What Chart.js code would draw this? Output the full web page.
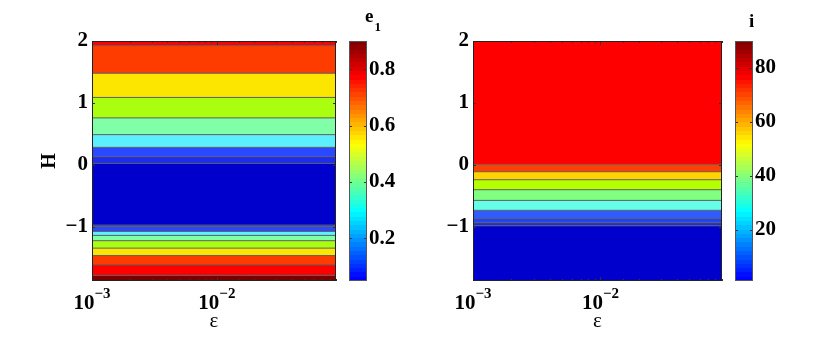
<!DOCTYPE html>
<html>
<head>
<meta charset="utf-8">
<script src="https://cdn.jsdelivr.net/npm/chart.js@4.4.0/dist/chart.umd.min.js"></script>
<style>
  body { margin: 0; background: #fff; }
  #wrap { position: relative; width: 830px; height: 346px; }
  canvas { position: absolute; top: 0; }
</style>
</head>
<body>
<div id="wrap">
  <canvas id="leftPlot" width="340" height="346" style="left:0"></canvas>
  <canvas id="leftBar" width="75" height="346" style="left:345px"></canvas>
  <canvas id="rightPlot" width="345" height="346" style="left:381px"></canvas>
  <canvas id="rightBar" width="75" height="346" style="left:731px"></canvas>
</div>
<script>
// band edges in H, top to bottom (values only depend on H)
const leftEdges = [2, 1.925, 1.48, 1.09, 0.76, 0.49, 0.285, 0.135, 0.027, -0.968, -0.99, -1.07, -1.135, -1.22, -1.34, -1.46, -1.61, -1.78, -1.87];
const leftLevels = [0.85, 0.75, 0.65, 0.55, 0.45, 0.35, 0.25, 0.15, 0.05, 0.15, 0.25, 0.35, 0.45, 0.55, 0.65, 0.75, 0.85, 0.9];
const rightEdges = [2, 0.011, -0.108, -0.237, -0.398, -0.57, -0.73, -0.86, -0.93, -0.98, -1.87];
const rightLevels = [85, 75, 65, 55, 45, 35, 25, 20, 15, 5];

const epsRange = [0.001, 0.09];
const hRange = [-1.87, 2];
const hTicks = [-1, 0, 1, 2];
const e1Range = [0.048, 0.9];
const e1Ticks = [0.2, 0.4, 0.6, 0.8];
const incRange = [1, 90];
const incTicks = [20, 40, 60, 80];

// colours seen in the picture, one per band
const leftColors = ['#ff0000', '#ff3c00', '#fce600', '#aaff10', '#80ffa8', '#5cf0ff', '#2a48ff', '#1c2cf0', '#0000cc',
  '#1c2cf0', '#2a48ff', '#5cf0ff', '#80ffa8', '#aaff10', '#fce600', '#ff3c00', '#ff0000', '#7a0000'];
const rightColors = ['#ff0000', '#ff4000', '#ffd200', '#b4ff00', '#80ff80', '#64ffe6', '#2e5cff', '#2244f0', '#1a2ee0', '#0000cc'];

const serif = 'Liberation Serif';
const tickFont = { family: serif, size: 21, weight: 'bold' };

function decade(v) {
  const e = Math.log10(v);
  return Math.abs(e - Math.round(e)) < 1e-6 ? Math.round(e) : null;
}

function bands(edges, levels, colors) {
  return levels.map((lv, i) => ({
    label: String(lv),
    data: [{ x: epsRange[0], y: edges[i] }, { x: epsRange[1], y: edges[i] }],
    fill: { value: edges[i + 1] },
    backgroundColor: colors[i],
    borderColor: '#5e5e5e',
    borderWidth: 1,
    pointRadius: 0
  }));
}

// box round the axes and small inward ticks, like matlab
const frame = {
  id: 'frame',
  afterDraw(chart) {
    const { ctx, chartArea: a, scales } = chart;
    ctx.save();
    ctx.strokeStyle = '#333';
    ctx.lineWidth = 1;
    ctx.beginPath();
    if (scales.x && scales.x.options.display) {
      scales.x.ticks.forEach(t => {
        const px = Math.round(scales.x.getPixelForValue(t.value)) + 0.5;
        const len = decade(t.value) !== null ? 4 : 2;
        ctx.moveTo(px, a.bottom); ctx.lineTo(px, a.bottom - len);
        ctx.moveTo(px, a.top); ctx.lineTo(px, a.top + len);
      });
    }
    scales.y.ticks.forEach(t => {
      const py = Math.round(scales.y.getPixelForValue(t.value)) + 0.5;
      ctx.moveTo(a.left, py); ctx.lineTo(a.left + 3, py);
      ctx.moveTo(a.right, py); ctx.lineTo(a.right - 3, py);
    });
    ctx.stroke();
    ctx.strokeStyle = chart.config.options.frameColor || '#222';
    ctx.strokeRect(Math.round(a.left) + 0.5, Math.round(a.top) + 0.5, Math.round(a.right - a.left) - 1, Math.round(a.bottom - a.top) - 1);
    ctx.restore();
  }
};

// 10^n labels with a raised exponent, placed at the log axis ticks
const powLabels = {
  id: 'powLabels',
  afterDraw(chart) {
    const { ctx, chartArea: a, scales: { x } } = chart;
    ctx.save();
    ctx.fillStyle = '#000';
    ctx.textBaseline = 'alphabetic';
    x.ticks.forEach(t => {
      const e = decade(t.value);
      if (e === null) return;
      const base = '10', exp = (e < 0 ? '\u2212' : '') + Math.abs(e);
      ctx.font = 'bold 21px "' + serif + '"';
      const wb = ctx.measureText(base).width;
      ctx.font = 'bold 15px "' + serif + '"';
      const we = ctx.measureText(exp).width;
      const left = x.getPixelForValue(t.value) - (wb + we) / 2;
      ctx.font = 'bold 21px "' + serif + '"';
      ctx.fillText(base, left, a.bottom + 28);
      ctx.font = 'bold 15px "' + serif + '"';
      ctx.fillText(exp, left + wb, a.bottom + 17);
    });
    ctx.restore();
  }
};

function plotConfig(edges, levels, colors, showH) {
  return {
    type: 'line',
    data: { datasets: bands(edges, levels, colors) },
    options: {
      responsive: false,
      animation: false,
      events: [],
      layout: { padding: { top: 41, left: 0, right: 4, bottom: 0 } },
      plugins: {
        legend: { display: false },
        tooltip: { enabled: false },
        filler: { drawTime: 'beforeDatasetsDraw' }
      },
      scales: {
        x: {
          type: 'logarithmic',
          min: epsRange[0],
          max: epsRange[1],
          grid: { display: false, drawTicks: false },
          border: { display: false },
          ticks: { display: false },
          title: { display: true, text: 'ε', color: '#000', font: { family: serif, size: 21 }, padding: { top: 0, bottom: 12 } },
          afterFit: s => { s.height = 65; }
        },
        y: {
          min: hRange[0],
          max: hRange[1],
          afterBuildTicks: s => { s.ticks = hTicks.map(v => ({ value: v })); },
          grid: { display: false, drawTicks: false },
          border: { display: false },
          ticks: { padding: 4, color: '#000', font: tickFont, callback: v => v < 0 ? '\u2212' + Math.abs(v) : String(v) },
          title: { display: showH, text: 'H', color: '#000', font: { family: serif, size: 20, weight: 'bold' }, padding: { top: 38 } },
          afterFit: s => { s.width = 92; }
        }
      }
    },
    plugins: [frame, powLabels]
  };
}

function jet(t) {
  const c = v => Math.round(255 * Math.max(0, Math.min(1, v)));
  return 'rgb(' + c(Math.min(4 * t - 1.5, -4 * t + 4.5)) + ',' + c(Math.min(4 * t - 0.5, -4 * t + 3.5)) + ',' + c(Math.min(4 * t + 0.5, -4 * t + 2.5)) + ')';
}

function jetFill(chart) {
  const a = chart.chartArea;
  if (!a) return '#888';
  const g = chart.ctx.createLinearGradient(0, a.bottom, 0, a.top);
  const n = 56;
  for (let i = 0; i < n; i++) {
    const col = jet(0.125 + 0.875 * i / (n - 1));
    g.addColorStop(i / n, col);
    g.addColorStop((i + 1) / n - 1e-4, col);
  }
  return g;
}

// colorbar title, drawn at the top right of the bar
const barTitle = {
  id: 'barTitle',
  afterDraw(chart, args, opts) {
    const { ctx, chartArea: a } = chart;
    ctx.save();
    ctx.fillStyle = '#000';
    ctx.textBaseline = 'alphabetic';
    ctx.font = 'bold 19px "' + serif + '"';
    const x = a.right + opts.dx;
    ctx.fillText(opts.text, x, opts.y);
    if (opts.sub) {
      const w = ctx.measureText(opts.text).width;
      ctx.font = 'bold 13px "' + serif + '"';
      ctx.fillText(opts.sub, x + w + 1, opts.y + 9);
    }
    ctx.restore();
  }
};

function barConfig(range, ticks, title) {
  return {
    type: 'bar',
    data: {
      labels: [''],
      datasets: [{
        data: [[range[0], range[1]]],
        backgroundColor: ctx => jetFill(ctx.chart),
        borderWidth: 0,
        barPercentage: 1,
        categoryPercentage: 1
      }]
    },
    options: {
      responsive: false,
      animation: false,
      events: [],
      frameColor: '#555',
      layout: { padding: { top: 41, left: 4, right: 0, bottom: 65 } },
      plugins: { legend: { display: false }, tooltip: { enabled: false }, barTitle: title },
      scales: {
        x: { display: false },
        y: {
          position: 'right',
          min: range[0],
          max: range[1],
          afterBuildTicks: s => { s.ticks = ticks.map(v => ({ value: v })); },
          grid: { display: false, drawTicks: false },
          border: { display: false },
          ticks: { padding: 2, color: '#000', font: tickFont },
          afterFit: s => { s.width = 53; }
        }
      }
    },
    plugins: [frame, barTitle]
  };
}

new Chart(document.getElementById('leftPlot'), plotConfig(leftEdges, leftLevels, leftColors, true));
new Chart(document.getElementById('leftBar'), barConfig(e1Range, e1Ticks, { text: 'e', sub: '1', dx: -2, y: 22 }));
new Chart(document.getElementById('rightPlot'), plotConfig(rightEdges, rightLevels, rightColors, false));
new Chart(document.getElementById('rightBar'), barConfig(incRange, incTicks, { text: 'i', dx: -4, y: 27 }));
</script>
</body>
</html>
